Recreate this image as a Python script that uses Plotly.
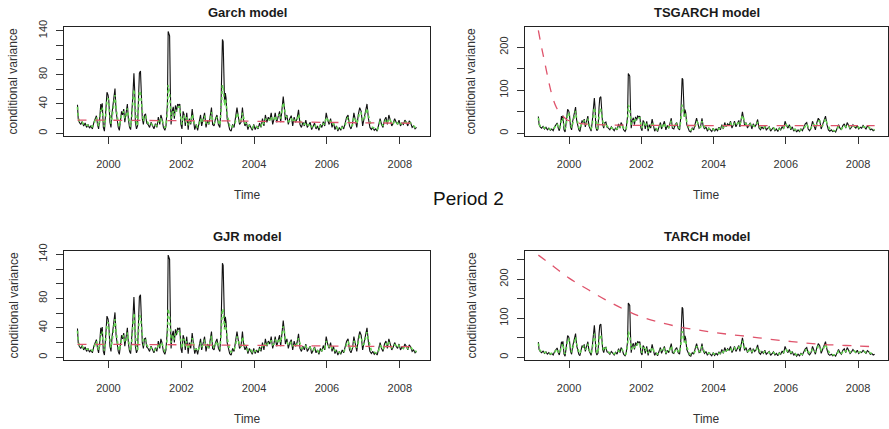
import plotly.graph_objects as go

# ---------------- data ----------------
years = [
    1999.15, 1999.17, 1999.20, 1999.24, 1999.28, 1999.32, 1999.36, 1999.40, 1999.44, 1999.48,
    1999.52, 1999.56, 1999.60, 1999.64, 1999.67, 1999.70, 1999.73, 1999.76, 1999.79, 1999.81,
    1999.83, 1999.86, 1999.89, 1999.92, 1999.96, 1999.99, 2000.01, 2000.04, 2000.07, 2000.10,
    2000.14, 2000.18, 2000.21, 2000.24, 2000.27, 2000.30, 2000.33, 2000.36, 2000.39, 2000.42,
    2000.45, 2000.49, 2000.52, 2000.55, 2000.58, 2000.61, 2000.64, 2000.67, 2000.70, 2000.72,
    2000.74, 2000.77, 2000.80, 2000.83, 2000.85, 2000.88, 2000.90, 2000.93, 2000.96, 2000.99,
    2001.02, 2001.05, 2001.09, 2001.13, 2001.17, 2001.21, 2001.25, 2001.29, 2001.33, 2001.37,
    2001.41, 2001.44, 2001.47, 2001.51, 2001.55, 2001.58, 2001.62, 2001.64, 2001.66, 2001.68,
    2001.70, 2001.72, 2001.75, 2001.78, 2001.81, 2001.84, 2001.87, 2001.90, 2001.93, 2001.96,
    2001.99, 2002.02, 2002.05, 2002.08, 2002.11, 2002.15, 2002.19, 2002.22, 2002.26, 2002.30,
    2002.33, 2002.37, 2002.41, 2002.45, 2002.49, 2002.53, 2002.56, 2002.60, 2002.64, 2002.68,
    2002.72, 2002.76, 2002.79, 2002.83, 2002.86, 2002.90, 2002.94, 2002.98, 2003.02, 2003.06,
    2003.09, 2003.11, 2003.13, 2003.15, 2003.17, 2003.19, 2003.21, 2003.23, 2003.26, 2003.29,
    2003.33, 2003.37, 2003.41, 2003.45, 2003.49, 2003.53, 2003.56, 2003.60, 2003.64, 2003.68,
    2003.71, 2003.75, 2003.79, 2003.83, 2003.87, 2003.91, 2003.95, 2003.99, 2004.03, 2004.07,
    2004.11, 2004.15, 2004.19, 2004.23, 2004.27, 2004.31, 2004.35, 2004.39, 2004.43, 2004.47,
    2004.51, 2004.55, 2004.58, 2004.62, 2004.66, 2004.70, 2004.73, 2004.77, 2004.80, 2004.83,
    2004.86, 2004.90, 2004.94, 2004.98, 2005.02, 2005.06, 2005.10, 2005.14, 2005.18, 2005.22,
    2005.26, 2005.30, 2005.34, 2005.38, 2005.42, 2005.46, 2005.50, 2005.54, 2005.58, 2005.62,
    2005.66, 2005.70, 2005.74, 2005.78, 2005.82, 2005.86, 2005.90, 2005.94, 2005.98, 2006.02,
    2006.06, 2006.10, 2006.14, 2006.18, 2006.22, 2006.26, 2006.30, 2006.34, 2006.38, 2006.42,
    2006.46, 2006.50, 2006.54, 2006.58, 2006.62, 2006.66, 2006.70, 2006.74, 2006.78, 2006.82,
    2006.86, 2006.90, 2006.94, 2006.98, 2007.02, 2007.06, 2007.10, 2007.14, 2007.18, 2007.22,
    2007.26, 2007.30, 2007.34, 2007.38, 2007.42, 2007.46, 2007.50, 2007.54, 2007.58, 2007.62,
    2007.66, 2007.70, 2007.74, 2007.78, 2007.82, 2007.86, 2007.90, 2007.94, 2007.98, 2008.02,
    2008.06, 2008.10, 2008.14, 2008.18, 2008.22, 2008.26, 2008.30, 2008.34, 2008.38, 2008.42,
    2008.46,
]

# observed variance (black solid line)
observed_var = [
    39, 20, 15, 12, 16, 10, 14, 8, 12, 7,
    10, 6, 15, 22, 24, 12, 6, 20, 40, 30,
    41, 8, 3, 25, 56, 52, 45, 15, 8, 28,
    45, 61, 30, 18, 8, 4, 20, 30, 25, 33,
    15, 28, 40, 18, 8, 5, 25, 50, 82, 60,
    15, 6, 10, 60, 82, 85, 50, 20, 12, 25,
    26, 14, 12, 8, 15, 10, 6, 13, 8, 22,
    12, 25, 20, 8, 4, 10, 40, 139, 136, 133,
    60, 12, 30, 36, 20, 38, 30, 40, 38, 40,
    12, 6, 30, 25, 10, 28, 5, 20, 12, 33,
    20, 5, 12, 4, 15, 25, 10, 20, 28, 8,
    18, 12, 25, 35, 12, 10, 20, 25, 12, 8,
    35, 120, 128, 125, 70, 40, 55, 48, 20, 12,
    5, 3, 12, 8, 20, 35, 25, 12, 15, 35,
    18, 10, 15, 5, 12, 8, 4, 12, 5, 10,
    6, 14, 8, 20, 10, 25, 15, 22, 18, 28,
    12, 20, 28, 15, 25, 30, 15, 40, 50, 35,
    18, 25, 12, 20, 24, 10, 22, 15, 20, 32,
    12, 8, 15, 10, 18, 8, 12, 15, 5, 10,
    14, 6, 10, 4, 12, 8, 16, 10, 28, 18,
    12, 20, 8, 15, 5, 10, 3, 8, 4, 10,
    6, 14, 22, 25, 10, 6, 12, 28, 20, 8,
    25, 35, 30, 10, 20, 30, 40, 20, 8, 5,
    8, 4, 6, 3, 12, 20, 12, 8, 18, 22,
    12, 25, 18, 10, 14, 20, 15, 12, 18, 10,
    14, 12, 18, 15, 10, 17, 14, 8, 10, 6,
    8,
]

# fitted conditional variance (green dotted line)
fitted_var = [
    36, 22, 17, 14, 15, 12, 13, 11, 11, 9,
    10, 9, 13, 19, 22, 15, 10, 16, 32, 30,
    35, 15, 9, 20, 45, 48, 40, 22, 13, 22,
    38, 52, 35, 22, 14, 9, 16, 25, 26, 30,
    20, 24, 34, 22, 13, 9, 20, 42, 60, 50,
    25, 12, 10, 45, 58, 55, 42, 25, 16, 22,
    24, 17, 14, 11, 13, 11, 9, 11, 10, 17,
    14, 20, 20, 12, 8, 9, 30, 66, 62, 55,
    40, 20, 25, 30, 24, 32, 30, 35, 36, 36,
    20, 12, 24, 24, 15, 22, 11, 16, 14, 26,
    21, 11, 11, 8, 12, 20, 14, 17, 24, 13,
    15, 13, 20, 29, 18, 13, 17, 22, 16, 11,
    28, 62, 66, 64, 50, 38, 46, 42, 26, 17,
    10, 7, 10, 10, 16, 28, 25, 16, 14, 28,
    21, 14, 13, 9, 11, 10, 7, 10, 8, 9,
    8, 11, 10, 16, 13, 20, 17, 19, 18, 23,
    17, 18, 24, 19, 22, 26, 20, 32, 42, 36,
    24, 22, 16, 17, 21, 15, 18, 16, 18, 26,
    17, 12, 13, 12, 15, 12, 11, 13, 9, 9,
    12, 9, 9, 7, 10, 9, 13, 12, 22, 19,
    14, 17, 12, 13, 9, 9, 6, 7, 6, 8,
    8, 11, 18, 22, 15, 10, 11, 22, 20, 13,
    20, 29, 28, 17, 18, 26, 34, 24, 14, 9,
    8, 7, 7, 5, 9, 16, 14, 10, 14, 19,
    15, 20, 18, 13, 13, 17, 16, 13, 16, 13,
    13, 12, 15, 15, 12, 14, 14, 11, 10, 8,
    8,
]

# red dashed lines (one per model)
garch_red_x = [1999.15, 2000, 2001, 2002, 2003, 2004, 2005, 2006, 2007, 2008, 2008.46]
garch_red_y = [18, 17.8, 17.5, 17.2, 17.0, 16.4, 15.6, 14.9, 14.3, 13.8, 13.6]

tsgarch_red_x = [1999.15, 1999.25, 1999.35, 1999.45, 1999.55, 1999.65, 1999.75, 1999.85,
                 1999.95, 2000.1, 2000.3, 2000.6, 2001.0, 2001.5, 2002.5, 2004, 2006, 2008.46]
tsgarch_red_y = [239, 195, 155, 115, 82, 60, 46, 38, 31, 27, 23, 20.5, 19.5, 18.8, 18.3, 18, 18, 18]

gjr_red_x = [1999.15, 2000, 2001, 2002, 2003, 2004, 2005, 2006, 2007, 2008, 2008.46]
gjr_red_y = [17.5, 17.5, 17.3, 17.0, 16.6, 16.2, 15.8, 15.3, 14.9, 14.5, 14.3]

tarch_red_x = [1999.15, 1999.5, 2000, 2000.5, 2001, 2001.5, 2002, 2002.5, 2003, 2003.5,
               2004, 2004.5, 2005, 2005.5, 2006, 2006.5, 2007, 2007.5, 2008, 2008.46]
tarch_red_y = [262, 238, 203, 175, 148, 124, 104, 90, 79, 71,
               64, 58, 53, 47, 42, 37, 33, 31, 29, 27]

model_titles = ["Garch model", "TSGARCH model", "GJR model", "TARCH model"]
year_ticks = [2000, 2002, 2004, 2006, 2008]
small_ticks = [0, 20, 40, 60, 80, 100, 120, 140]
small_labels = ["0", "", "40", "", "80", "", "", "140"]
big_ticks_top = [0, 50, 100, 150, 200]
big_labels_top = ["0", "", "100", "", "200"]
big_ticks_bot = [0, 50, 100, 150, 200, 250]
big_labels_bot = ["0", "", "100", "", "200", ""]

assert len(years) == len(observed_var) == len(fitted_var)

# ---------------- layout helpers ----------------
W, H = 889, 429
FONT = "Liberation Sans, Arial, sans-serif"
BLACK = "#111111"
GREEN = "#61D04F"
RED = "#DF536B"
TXT = "#333333"

def px_x(p):
    return p / W

def px_y(p):
    return 1 - p / H

panels = [
    dict(title=model_titles[0], rx=garch_red_x, ry=garch_red_y,
         xpx=(64, 430), ypx=(27, 136), yr=[-3.7, 145],
         tv=small_ticks, tt=small_labels, ylab_x=13),
    dict(title=model_titles[1], rx=tsgarch_red_x, ry=tsgarch_red_y,
         xpx=(525, 888), ypx=(27, 136), yr=[-6.3, 247],
         tv=big_ticks_top, tt=big_labels_top, ylab_x=471),
    dict(title=model_titles[2], rx=gjr_red_x, ry=gjr_red_y,
         xpx=(64, 430), ypx=(251, 360), yr=[-3.7, 144.5],
         tv=small_ticks, tt=small_labels, ylab_x=13),
    dict(title=model_titles[3], rx=tarch_red_x, ry=tarch_red_y,
         xpx=(525, 888), ypx=(251, 360), yr=[-6.9, 272.6],
         tv=big_ticks_bot, tt=big_labels_bot, ylab_x=471),
]

fig = go.Figure()
annotations = []
layout = {}

for i, p in enumerate(panels):
    k = "" if i == 0 else str(i + 1)
    xa, ya = "x" + k, "y" + k
    fig.add_trace(go.Scatter(x=years, y=observed_var, mode="lines", xaxis=xa, yaxis=ya,
                             line=dict(color=BLACK, width=1.1), showlegend=False,
                             hoverinfo="skip"))
    fig.add_trace(go.Scatter(x=years, y=fitted_var, mode="lines", xaxis=xa, yaxis=ya,
                             line=dict(color=GREEN, width=1.6, dash="dot"), showlegend=False,
                             hoverinfo="skip"))
    fig.add_trace(go.Scatter(x=p["rx"], y=p["ry"], mode="lines", xaxis=xa, yaxis=ya,
                             line=dict(color=RED, width=1.3, dash="dash", shape="spline"),
                             showlegend=False, hoverinfo="skip"))

    x0, x1 = p["xpx"]
    y0, y1 = p["ypx"]
    layout["xaxis" + k] = dict(
        domain=[px_x(x0), px_x(x1)], range=[1998.78, 2008.83], anchor=ya,
        tickvals=year_ticks, ticktext=[str(t) for t in year_ticks],
        ticks="outside", ticklen=7, tickwidth=1, tickcolor="#333333",
        ticklabelstandoff=11, automargin=False,
        showline=True, linecolor="#222222", linewidth=1, mirror=True,
        showgrid=False, zeroline=False,
        tickfont=dict(family=FONT, size=11, color=TXT),
    )
    layout["yaxis" + k] = dict(
        domain=[px_y(y1), px_y(y0)], range=p["yr"], anchor=xa,
        tickvals=p["tv"], ticktext=p["tt"], tickangle=-90,
        ticks="outside", ticklen=7, tickwidth=1, tickcolor="#333333",
        ticklabelstandoff=5, automargin=False,
        showline=True, linecolor="#222222", linewidth=1, mirror=True,
        showgrid=False, zeroline=False,
        tickfont=dict(family=FONT, size=11, color=TXT),
    )
    cx = px_x((x0 + x1) / 2)
    annotations.append(dict(text="<b>" + p["title"] + "</b>", x=cx, y=px_y(y0 - 14),
                            xref="paper", yref="paper", showarrow=False,
                            xanchor="center", yanchor="middle",
                            font=dict(family=FONT, size=13, color="#1a1a1a")))
    annotations.append(dict(text="Time", x=cx, y=px_y(y1 + 59),
                            xref="paper", yref="paper", showarrow=False,
                            xanchor="center", yanchor="middle",
                            font=dict(family=FONT, size=12, color=TXT)))
    annotations.append(dict(text="conditional variance", x=px_x(p["ylab_x"]),
                            y=px_y((y0 + y1) / 2), xref="paper", yref="paper",
                            showarrow=False, textangle=-90,
                            xanchor="center", yanchor="middle",
                            font=dict(family=FONT, size=12, color=TXT)))

annotations.append(dict(text="Period 2", x=px_x(469), y=px_y(199), xref="paper", yref="paper",
                        showarrow=False, xanchor="center", yanchor="middle",
                        font=dict(family=FONT, size=19, color="#111111")))

fig.update_layout(
    template="none",
    width=W, height=H, autosize=False,
    margin=dict(l=0, r=0, t=0, b=0, pad=0, autoexpand=False),
    paper_bgcolor="white", plot_bgcolor="white",
    annotations=annotations,
    **layout,
)

fig.write_html(
    "out.html",
    config={"displayModeBar": False},
    post_script=(
        "document.body.style.margin='0';document.body.style.overflow='hidden';"
        "var d=document.getElementById('{plot_id}');"
        "d.style.position='absolute';d.style.top='0px';d.style.left='0px';"
    ),
)
